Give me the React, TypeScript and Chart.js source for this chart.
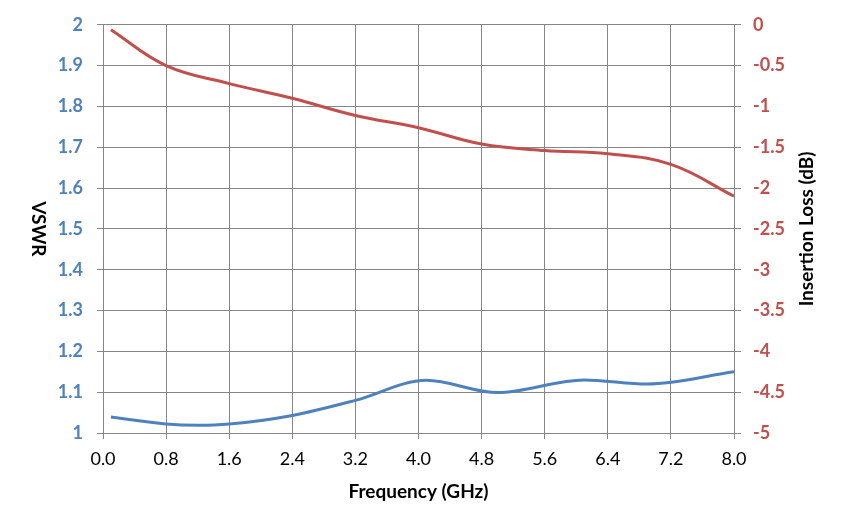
import React, { useRef, useEffect } from "react";
import { Chart, registerables } from "chart.js";

Chart.register(...registerables);

// values
const vswrFreq = [0.1, 0.8, 1.2, 1.6, 2.4, 3.2, 4.1, 5.0, 6.1, 6.9, 8.0];
const vswrValues = [1.039, 1.022, 1.019, 1.022, 1.043, 1.08, 1.129, 1.099, 1.13, 1.12, 1.15];

const lossFreq = [0.1, 0.8, 1.6, 2.4, 3.2, 4.0, 4.8, 5.6, 6.4, 7.2, 8.0];
const lossValues = [-0.06, -0.5, -0.72, -0.9, -1.11, -1.26, -1.46, -1.54, -1.58, -1.71, -2.1];

const freqTicks = [0, 0.8, 1.6, 2.4, 3.2, 4.0, 4.8, 5.6, 6.4, 7.2, 8.0];
const vswrTicks = [1, 1.1, 1.2, 1.3, 1.4, 1.5, 1.6, 1.7, 1.8, 1.9, 2];
const lossTicks = [-5, -4.5, -4, -3.5, -3, -2.5, -2, -1.5, -1, -0.5, 0];

const BLUE = "#4F81BD";
const RED = "#C0504D";
const GRID = "#868686";
const FONT = "Lato";

const axisTitles = {
  id: "axisTitles",
  afterDraw(chart: Chart) {
    const ctx = chart.ctx;
    const { top, bottom, left, right } = chart.chartArea;
    const midY = (top + bottom) / 2;
    ctx.save();
    ctx.font = `bold 19px ${FONT}`;
    ctx.fillStyle = "#000";
    ctx.textAlign = "center";
    ctx.textBaseline = "middle";
    ctx.fillText("Frequency (GHz)", (left + right) / 2, 492);

    ctx.save();
    ctx.translate(38, midY);
    ctx.rotate(Math.PI / 2);
    ctx.fillText("VSWR", 0, 0);
    ctx.restore();

    ctx.save();
    ctx.translate(807, midY);
    ctx.rotate(-Math.PI / 2);
    ctx.fillText("Insertion Loss (dB)", 0, 0);
    ctx.restore();

    ctx.restore();
  },
};

const App = () => {
  const chartRef = useRef<HTMLCanvasElement | null>(null);
  const chartInstanceRef = useRef<Chart | null>(null);

  useEffect(() => {
    if (chartInstanceRef.current) {
      chartInstanceRef.current.destroy();
    }
    const ctx = chartRef.current?.getContext("2d");
    if (!ctx) return;

    chartInstanceRef.current = new Chart(ctx, {
      type: "scatter",
      data: {
        datasets: [
          {
            label: "VSWR",
            data: vswrFreq.map((f, i) => ({ x: f, y: vswrValues[i] })),
            yAxisID: "y",
            borderColor: BLUE,
            borderWidth: 3,
            showLine: true,
            pointRadius: 0,
            cubicInterpolationMode: "monotone",
          },
          {
            label: "Insertion Loss",
            data: lossFreq.map((f, i) => ({ x: f, y: lossValues[i] })),
            yAxisID: "y1",
            borderColor: RED,
            borderWidth: 3,
            showLine: true,
            pointRadius: 0,
            tension: 0.4,
          },
        ],
      },
      options: {
        responsive: false,
        animation: false,
        layout: { padding: { top: 23, left: 0, right: 0, bottom: 0 } },
        plugins: {
          legend: { display: false },
          tooltip: { enabled: false },
        },
        scales: {
          x: {
            type: "linear",
            min: 0,
            max: 8,
            afterBuildTicks: (scale: any) => {
              scale.ticks = freqTicks.map((v) => ({ value: v }));
            },
            afterFit: (scale: any) => {
              scale.height = 96;
            },
            grid: { color: GRID, lineWidth: 1, tickLength: 6 },
            border: { color: GRID, width: 1 },
            ticks: {
              color: "#000",
              font: { family: FONT, size: 18 },
              padding: 9,
              maxRotation: 0,
              callback: (v: any) => Number(v).toFixed(1),
            },
          },
          y: {
            type: "linear",
            position: "left",
            min: 1,
            max: 2,
            afterBuildTicks: (scale: any) => {
              scale.ticks = vswrTicks.map((v) => ({ value: v }));
            },
            afterFit: (scale: any) => {
              scale.width = 103;
            },
            grid: { color: GRID, lineWidth: 1, tickLength: 6 },
            border: { color: GRID, width: 1 },
            ticks: {
              color: BLUE,
              font: { family: FONT, size: 18, weight: "bold" },
              padding: 14,
              callback: (v: any) => String(Number(Number(v).toFixed(1))),
            },
          },
          y1: {
            type: "linear",
            position: "right",
            min: -5,
            max: 0,
            afterBuildTicks: (scale: any) => {
              scale.ticks = lossTicks.map((v) => ({ value: v }));
            },
            afterFit: (scale: any) => {
              scale.width = 110;
            },
            grid: { drawOnChartArea: false, color: GRID, lineWidth: 1, tickLength: 7 },
            border: { color: GRID, width: 1 },
            ticks: {
              color: RED,
              font: { family: FONT, size: 18, weight: "bold" },
              padding: 12,
              callback: (v: any) => String(Number(Number(v).toFixed(1))),
            },
          },
        },
      },
      plugins: [axisTitles],
    });

    return () => {
      if (chartInstanceRef.current) {
        chartInstanceRef.current.destroy();
        chartInstanceRef.current = null;
      }
    };
  }, []);

  return (
    <div style={{ position: "absolute", left: 0, top: 0, width: 844, height: 529, background: "#fff" }}>
      <canvas ref={chartRef} width={844} height={529} />
    </div>
  );
};

export default App;
